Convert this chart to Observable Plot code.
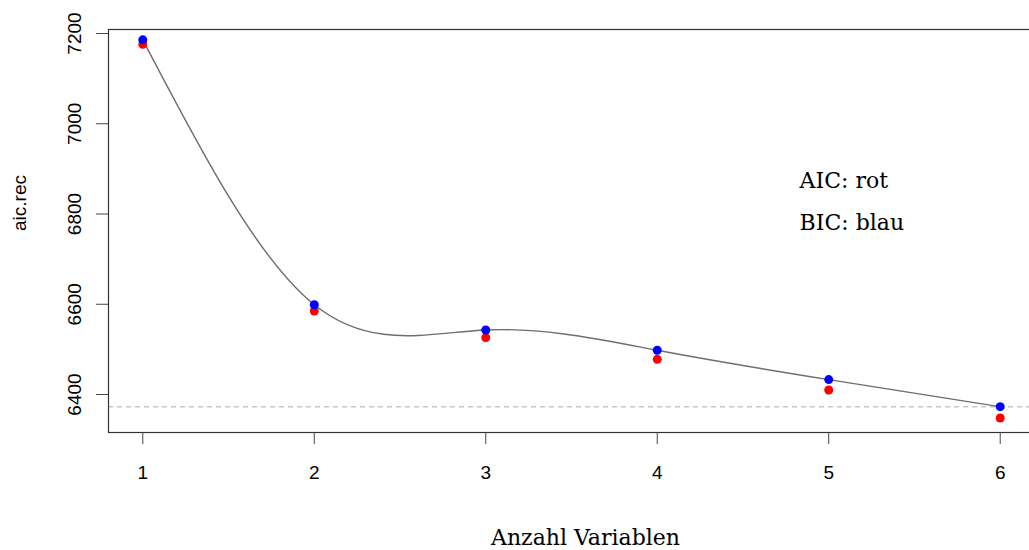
<!DOCTYPE html>
<html>
<head>
<meta charset="utf-8">
<script src="https://cdn.jsdelivr.net/npm/d3@7"></script>
<script src="https://cdn.jsdelivr.net/npm/@observablehq/plot@0.6"></script>
<style>
  html, body { margin: 0; padding: 0; background: #fff; overflow: hidden; }
</style>
</head>
<body>
<div id="chart"></div>
<script>
const nVars = [1, 2, 3, 4, 5, 6];
const aicValues = [7176, 6585, 6526, 6478, 6410, 6348];
const bicValues = [7186, 6599, 6543, 6498, 6433, 6373];
const xTicks = [1, 2, 3, 4, 5, 6];
const yTicks = [6400, 6600, 6800, 7000, 7200];
const yLabel = "aic.rec";
const xLabel = "Anzahl Variablen";
const legendLines = ["AIC: rot", "BIC: blau"];
const legendY = [6874, 6781];

const aicData = nVars.map((n, i) => ({n, v: aicValues[i]}));
const bicData = nVars.map((n, i) => ({n, v: bicValues[i]}));
const legendData = legendLines.map((t, i) => ({t, y: legendY[i]}));
const minBic = d3.min(bicValues);

const chart = Plot.plot({
  width: 1029,
  height: 550,
  marginLeft: 108,
  marginRight: -5,
  marginTop: 29,
  marginBottom: 118,
  style: {fontFamily: "'Liberation Sans', Arial, sans-serif", fontSize: "19px", color: "#000", background: "#fff"},
  x: {domain: [0.8, 6.2]},
  y: {domain: [6315.8, 7208.9]},
  marks: [
    Plot.ruleY([minBic], {stroke: "#c8c8c8", strokeWidth: 1.5, strokeDasharray: "5,4"}),
    Plot.line(bicData, {x: "n", y: "v", curve: "natural", stroke: "#6e6e6e", strokeWidth: 1.4}),
    Plot.dot(aicData, {x: "n", y: "v", r: 4.5, fill: "#ff0000", stroke: "none"}),
    Plot.dot(bicData, {x: "n", y: "v", r: 4.5, fill: "#0000ff", stroke: "none"}),
    Plot.frame({stroke: "#333", strokeWidth: 1.2}),
    Plot.axisX(xTicks, {tickSize: 12, tickPadding: 21, label: null, stroke: "#444", fontSize: 19, tickFormat: (d) => String(d)}),
    Plot.axisY(yTicks, {tickSize: 12, tickPadding: 16, tickRotate: -90, label: null, stroke: "#444", fontSize: 19, tickFormat: (d) => String(d)}),
    Plot.text([yLabel], {frameAnchor: "left", rotate: -90, dx: -89, fontSize: 19, lineAnchor: "middle"}),
    Plot.text([xLabel], {frameAnchor: "bottom", dx: 14, dy: 105, lineAnchor: "middle", fontFamily: "'DejaVu Serif', serif", fontSize: 22}),
    Plot.text(legendData, {x: () => 4.83, y: "y", text: "t", textAnchor: "start", lineAnchor: "middle", fontFamily: "'DejaVu Serif', serif", fontSize: 22})
  ]
});
document.getElementById("chart").appendChild(chart);
</script>
</body>
</html>
